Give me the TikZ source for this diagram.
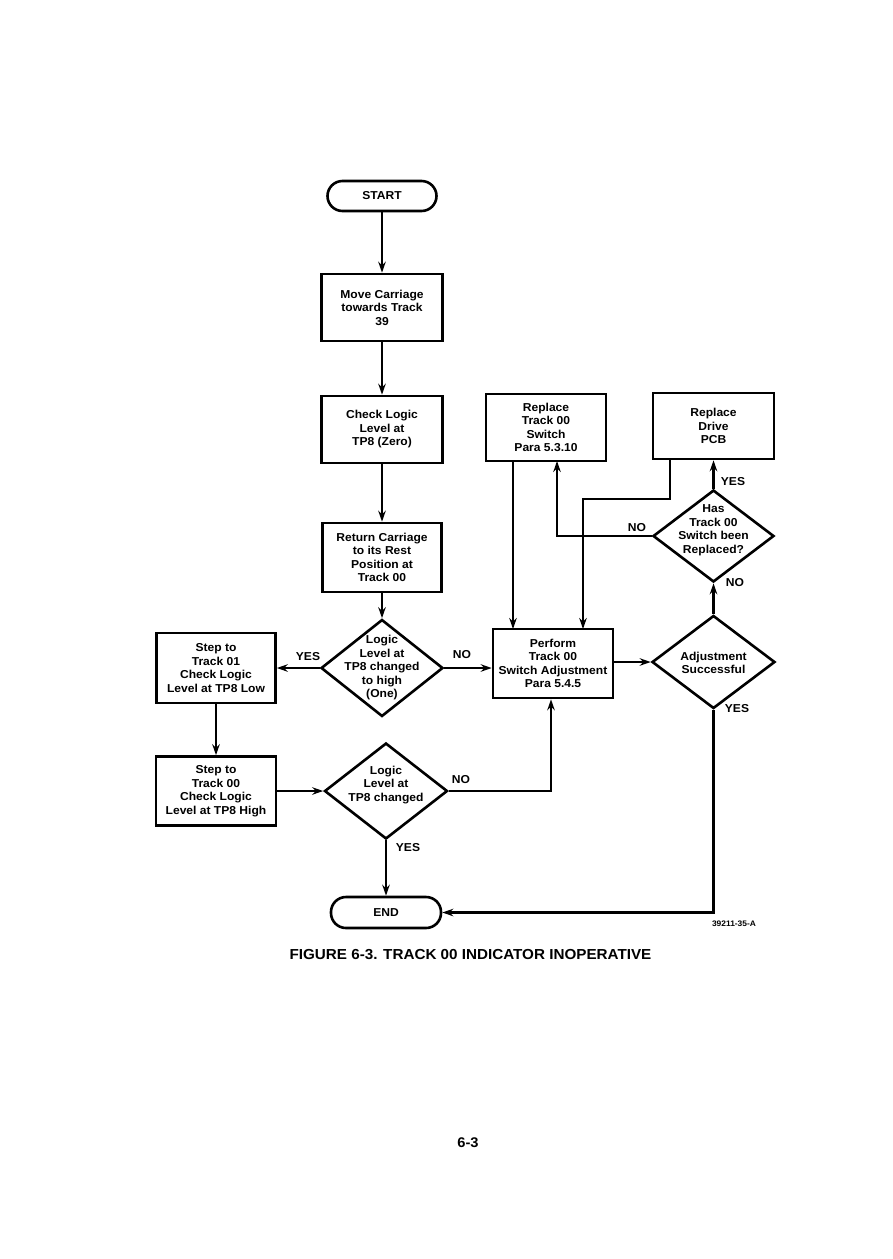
\documentclass[tikz,border=0pt]{standalone}
\usepackage{fontspec}
\setmainfont{Liberation Sans}[FakeStretch=1.05]
\usetikzlibrary{shapes.geometric,arrows.meta}
\begin{document}
\begin{tikzpicture}[x=1pt,y=-1pt,
  every node/.style={font=\fontsize{11.5}{13.5}\selectfont\bfseries},
  box/.style={draw,line width=2.6pt,rectangle,align=center,inner sep=0pt},
  term/.style={draw,line width=2.6pt,rectangle,rounded corners=15pt,inner sep=0pt},
  dia/.style={draw,line width=2.6pt,diamond,inner sep=0pt},
  dtext/.style={align=center,inner sep=0pt},
  lbl/.style={inner sep=0pt},
  conn/.style={line width=2.4pt,-{Stealth[length=11pt,width=7.5pt]}},
  line/.style={line width=2.4pt}]
\useasboundingbox (0,0) rectangle (893,1259);
% terminals
\node[term,minimum width=109pt,minimum height=30pt] (start) at (382,196) {START};
\node[term,minimum width=110pt,minimum height=31pt] (end) at (386,912.5) {END};
% boxes
\node[box,minimum width=121pt,minimum height=67pt] (move) at (382,307.5) {Move Carriage\\towards Track\\39};
\node[box,minimum width=121pt,minimum height=67pt] (check) at (382,429.5) {Check Logic\\Level at\\TP8 (Zero)};
\node[box,minimum width=119pt,minimum height=69pt] (ret) at (382,557.5) {Return Carriage\\to its Rest\\Position at\\Track 00};
\node[box,minimum width=119pt,minimum height=70pt] (s01) at (216,668) {Step to\\Track 01\\Check Logic\\Level at TP8 Low};
\node[box,minimum width=120pt,minimum height=69pt] (s00) at (216,791) {Step to\\Track 00\\Check Logic\\Level at TP8 High};
\node[box,minimum width=120pt,minimum height=69pt] (perf) at (553,663.5) {Perform\\Track 00\\Switch Adjustment\\Para 5.4.5};
\node[box,minimum width=120pt,minimum height=67pt] (rts) at (546,427.5) {Replace\\Track 00\\Switch\\Para 5.3.10};
\node[box,minimum width=121pt,minimum height=66pt] (drive) at (713.5,426) {Replace\\Drive\\PCB};
% diamonds
\node[dia,minimum width=122pt,minimum height=97pt] (d1) at (382,668) {};
\node[dtext] (d1t) at (382,668) {Logic\\Level at\\TP8 changed\\to high\\(One)};
\node[dia,minimum width=123pt,minimum height=96pt] (d3) at (386,791) {};
\node[dtext] (d3t) at (386,785) {Logic\\Level at\\TP8 changed};
\node[dia,minimum width=123pt,minimum height=93pt] (d2) at (713.5,662) {};
\node[dtext] (d2t) at (713.5,663) {Adjustment\\Successful};
\node[dia,minimum width=121pt,minimum height=92pt] (hd) at (713.5,536) {};
\node[dtext] (hdt) at (713.5,530) {Has\\Track 00\\Switch been\\Replaced?};
% helper coordinates
\coordinate (c1) at (551,791);
\coordinate (c2) at (713.5,912.5);
\coordinate (c3) at (557,536);
\coordinate (c3e) at (557,461);
\coordinate (c4s) at (513,461);
\coordinate (c4e) at (513,629);
\coordinate (c5s) at (670,459);
\coordinate (c5a) at (670,499);
\coordinate (c5b) at (583,499);
\coordinate (c5e) at (583,629);
% connectors
\draw[conn] (start.south) -- (move.north);
\draw[conn] (move.south) -- (check.north);
\draw[conn] (check.south) -- (ret.north);
\draw[conn] (ret.south) -- (d1.north);
\draw[conn] (d1.west) -- (s01.east);
\draw[conn] (d1.east) -- (d1.east -| perf.west);
\draw[conn] (s01.south) -- (s00.north);
\draw[conn] (s00.east) -- (d3.west);
\draw[conn] (d3.east) -- (c1) -- (perf.south -| c1);
\draw[conn] (d3.south) -- (end.north);
\draw[conn] (perf.east |- d2.west) -- (d2.west);
\draw[conn] (d2.south) -- (c2) -- (end.east);
\draw[conn] (d2.north) -- (hd.south);
\draw[conn] (hd.north) -- (drive.south);
\draw[conn] (hd.west) -- (c3) -- (c3e);
\draw[conn] (c4s) -- (c4e);
\draw[conn] (c5s) -- (c5a) -- (c5b) -- (c5e);
% labels
\node[lbl] (l1) at (308,657) {YES};
\node[lbl] (l2) at (462,655) {NO};
\node[lbl] (l3) at (637,528) {NO};
\node[lbl] (l4) at (733,482) {YES};
\node[lbl] (l5) at (735,583) {NO};
\node[lbl] (l6) at (737,709) {YES};
\node[lbl] (l7) at (461,780) {NO};
\node[lbl] (l8) at (408,848) {YES};
\node[lbl,font=\fontsize{8}{9}\selectfont\bfseries] (ref) at (734,923.5) {39211-35-A};
\node[lbl,font=\fontsize{14.5}{16}\selectfont\bfseries] (cap) at (470.5,955) {FIGURE 6-3. TRACK 00 INDICATOR INOPERATIVE};
\node[lbl,font=\fontsize{14}{16}\selectfont\bfseries] (pg) at (468,1143) {6-3};
\end{tikzpicture}
\end{document}
